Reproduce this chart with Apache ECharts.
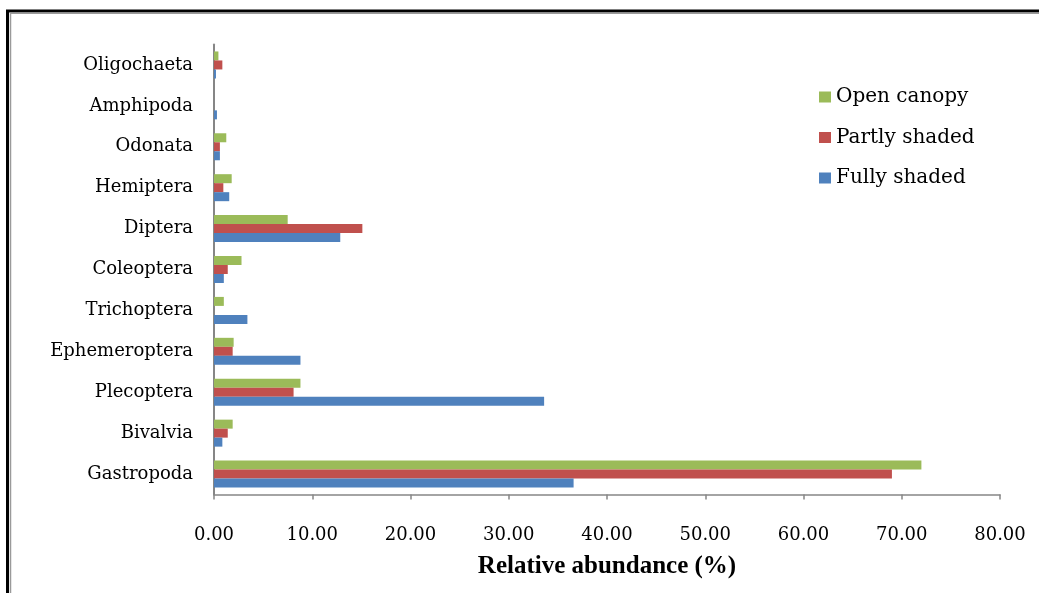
<!DOCTYPE html>
<html>
<head>
<meta charset="utf-8">
<script src="https://cdn.jsdelivr.net/npm/echarts@6/dist/echarts.min.js"></script>
<style>html,body{margin:0;padding:0;background:#fff}#c{width:1039px;height:593px}</style>
</head>
<body>
<div id="c"></div>
<script>
const categories = ['Gastropoda','Bivalvia','Plecoptera','Ephemeroptera','Trichoptera','Coleoptera','Diptera','Hemiptera','Odonata','Amphipoda','Oligochaeta'];
const fullyShaded = [36.6, 0.85, 33.6, 8.8, 3.4, 1.0, 12.85, 1.55, 0.6, 0.3, 0.2];
const partlyShaded = [69.0, 1.4, 8.1, 1.9, 0, 1.4, 15.1, 0.95, 0.6, 0, 0.85];
const openCanopy = [72.0, 1.9, 8.8, 2.0, 1.0, 2.8, 7.5, 1.8, 1.25, 0, 0.45];
const xTickLabels = ['0.00','10.00','20.00','30.00','40.00','50.00','60.00','70.00','80.00'];

const chart = echarts.init(document.getElementById('c'));
const serif = 'DejaVu Serif';
chart.setOption({
  animation: false,
  backgroundColor: '#fff',
  graphic: [
    {type:'polyline', shape:{points:[[7.5,700],[7.5,11],[1100,11]]}, style:{fill:null, stroke:'#000', lineWidth:3}, silent:true},
    {type:'polyline', shape:{points:[[10.5,700],[10.5,13.2],[1100,13.2]]}, style:{fill:null, stroke:'#9a9a9a', lineWidth:1.5}, silent:true}
  ],
  grid: {left:214, right:39, top:44.5, bottom:98.5, containLabel:false},
  legend: {
    orient:'vertical', left:814, top:82, itemWidth:12, itemHeight:11, itemGap:20.5,
    icon:'rect',
    data:['Open canopy','Partly shaded','Fully shaded'],
    textStyle:{fontFamily:serif, fontSize:20, color:'#000', padding:[0,0,0,0]}
  },
  xAxis: {
    type:'value', min:0, max:80, interval:10,
    axisLine:{show:true, lineStyle:{color:'#868686', width:1.5}},
    axisTick:{show:true, length:5, lineStyle:{color:'#868686', width:1.5}},
    splitLine:{show:false},
    axisLabel:{margin:32, fontFamily:serif, fontSize:18, color:'#000',
      formatter:function(v){ return xTickLabels[Math.round(v/10)]; }},
    name:'Relative abundance (%)', nameLocation:'middle', nameGap:60,
    nameTextStyle:{fontFamily:'Liberation Serif', fontWeight:'bold', fontSize:25, color:'#000'}
  },
  yAxis: {
    type:'category', data:categories,
    axisLine:{show:true, lineStyle:{color:'#868686', width:2}},
    axisTick:{show:false},
    axisLabel:{margin:21, fontFamily:serif, fontSize:18, color:'#000'}
  },
  series: [
    {name:'Open canopy', type:'bar', data:openCanopy, barGap:'0%', barCategoryGap:'34%', itemStyle:{color:'#9BBB59'}},
    {name:'Partly shaded', type:'bar', data:partlyShaded, barGap:'0%', barCategoryGap:'34%', itemStyle:{color:'#C0504D'}},
    {name:'Fully shaded', type:'bar', data:fullyShaded, barGap:'0%', barCategoryGap:'34%', itemStyle:{color:'#4F81BD'}}
  ]
});
</script>
</body>
</html>
